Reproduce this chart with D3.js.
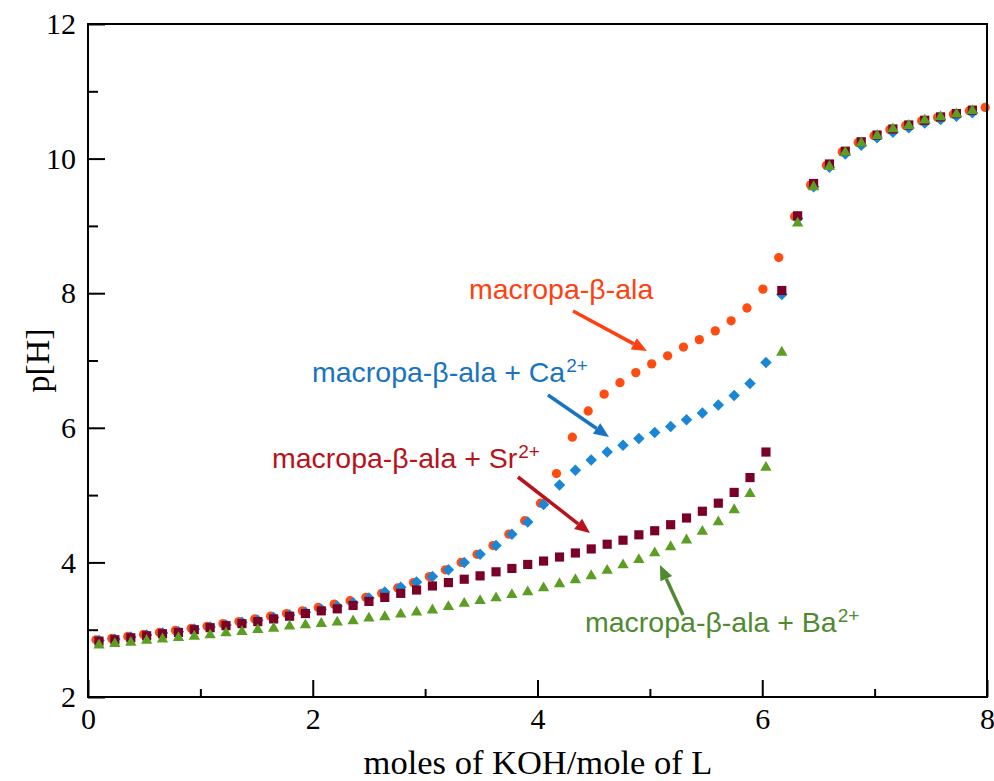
<!DOCTYPE html>
<html>
<head>
<meta charset="utf-8">
<script src="https://cdn.jsdelivr.net/npm/d3@7"></script>
<style>
  html, body { margin: 0; padding: 0; background: #fff; }
  svg { display: block; }
</style>
</head>
<body>
<svg id="chart" width="994" height="781"></svg>
<script>
// Titration curves: p[H] versus equivalents of KOH added per mole of ligand.

// Equivalents of base for the metal-containing titrations
const xMetal = [0.098, 0.239, 0.381, 0.522, 0.663, 0.805, 0.946, 1.087, 1.228, 1.370,
  1.511, 1.652, 1.794, 1.935, 2.076, 2.218, 2.359, 2.500, 2.641, 2.783,
  2.924, 3.065, 3.207, 3.348, 3.489, 3.631, 3.772, 3.913, 4.054, 4.196,
  4.337, 4.478, 4.620, 4.761, 4.902, 5.043, 5.185, 5.326, 5.467, 5.609,
  5.750, 5.891, 6.033, 6.174, 6.315, 6.457, 6.598, 6.739, 6.881, 7.022,
  7.163, 7.304, 7.446, 7.587, 7.728, 7.870];

// Equivalents of base for the free ligand titration
const xLigand = [0.071, 0.212, 0.354, 0.495, 0.636, 0.778, 0.919, 1.060, 1.201, 1.343,
  1.484, 1.625, 1.767, 1.908, 2.049, 2.191, 2.332, 2.473, 2.614, 2.756,
  2.897, 3.038, 3.180, 3.321, 3.462, 3.604, 3.745, 3.886, 4.027, 4.169,
  4.310, 4.451, 4.593, 4.734, 4.875, 5.016, 5.158, 5.299, 5.440, 5.582,
  5.723, 5.864, 6.006, 6.147, 6.288, 6.430, 6.571, 6.712, 6.854, 6.995,
  7.136, 7.277, 7.419, 7.560, 7.701, 7.843, 7.984];

// p[H] readings
const pHLigand = [2.85, 2.87, 2.90, 2.93, 2.96, 2.99, 3.02, 3.05, 3.09, 3.12,
  3.16, 3.20, 3.24, 3.28, 3.33, 3.38, 3.43, 3.48, 3.54, 3.62,
  3.70, 3.79, 3.89, 4.00, 4.12, 4.25, 4.42, 4.62, 4.88, 5.32,
  5.86, 6.25, 6.50, 6.67, 6.82, 6.95, 7.07, 7.20, 7.31, 7.44,
  7.59, 7.78, 8.06, 8.53, 9.14, 9.61, 9.90, 10.10, 10.24, 10.34,
  10.43, 10.49, 10.56, 10.61, 10.66, 10.71, 10.76];

const pHCa = [2.84, 2.86, 2.89, 2.92, 2.95, 2.97, 3.01, 3.04, 3.07, 3.11,
  3.14, 3.18, 3.22, 3.26, 3.30, 3.35, 3.40, 3.47, 3.56, 3.63,
  3.71, 3.79, 3.89, 4.00, 4.12, 4.25, 4.42, 4.60, 4.86, 5.15,
  5.37, 5.52, 5.64, 5.74, 5.84, 5.93, 6.02, 6.12, 6.22, 6.34,
  6.48, 6.66, 6.97, 7.98, 9.11, 9.58, 9.87, 10.07, 10.20, 10.31,
  10.39, 10.46, 10.53, 10.58, 10.63, 10.68];

const pHSr = [2.83, 2.85, 2.88, 2.91, 2.94, 2.96, 3.00, 3.03, 3.06, 3.09,
  3.12, 3.16, 3.20, 3.24, 3.28, 3.31, 3.36, 3.42, 3.48, 3.54,
  3.59, 3.65, 3.70, 3.75, 3.80, 3.86, 3.91, 3.97, 4.02, 4.08,
  4.14, 4.20, 4.27, 4.33, 4.41, 4.47, 4.56, 4.66, 4.76, 4.88,
  5.04, 5.26, 5.64, 8.04, 9.15, 9.63, 9.92, 10.11, 10.25, 10.35,
  10.44, 10.50, 10.57, 10.62, 10.67, 10.72];

const pHBa = [2.77, 2.79, 2.81, 2.84, 2.86, 2.88, 2.90, 2.92, 2.95, 2.97,
  3.00, 3.02, 3.05, 3.07, 3.09, 3.11, 3.13, 3.17, 3.19, 3.23,
  3.26, 3.29, 3.34, 3.39, 3.43, 3.47, 3.52, 3.56, 3.62, 3.68,
  3.74, 3.80, 3.88, 3.96, 4.04, 4.14, 4.23, 4.33, 4.46, 4.60,
  4.78, 5.02, 5.41, 7.12, 9.04, 9.58, 9.88, 10.09, 10.23, 10.34,
  10.44, 10.49, 10.57, 10.62, 10.66, 10.71];

// Axis ticks
const xMajorTicks = [0, 2, 4, 6, 8];
const xMinorTicks = [1, 3, 5, 7];
const yMajorTicks = [2, 4, 6, 8, 10, 12];
const yMinorTicks = [3, 5, 7, 9, 11];

// Series styling
const series = [
  { name: "L",  x: xLigand, y: pHLigand, symbol: "circle",   color: "#ff4d12" },
  { name: "Ca", x: xMetal,  y: pHCa,     symbol: "diamond",  color: "#1a86d6" },
  { name: "Sr", x: xMetal,  y: pHSr,     symbol: "square",   color: "#7b0028" },
  { name: "Ba", x: xMetal,  y: pHBa,     symbol: "triangle", color: "#5c9e22" }
];

// Callout labels with arrows (positions in data units)
const callouts = [
  { text: "macropa-β-ala", sup: "", color: "#ff4010", at: [3.39, 7.914],
    tail: [4.316, 7.735], head: [4.974, 7.141] },
  { text: "macropa-β-ala + Ca", sup: "2+", color: "#1874c0", at: [1.993, 6.681],
    tail: [4.093, 6.487], head: [4.636, 5.863] },
  { text: "macropa-β-ala + Sr", sup: "2+", color: "#b8121b", at: [1.637, 5.403],
    tail: [3.826, 5.269], head: [4.467, 4.437] },
  { text: "macropa-β-ala + Ba", sup: "2+", color: "#4f8a30", at: [4.423, 2.966],
    tail: [5.295, 3.218], head: [5.09, 3.961] }
];

const svg = d3.select("#chart");
const plotLeft = 88, plotRight = 987, plotTop = 24, plotBottom = 697;

const x = d3.scaleLinear().domain([0, 8]).range([plotLeft, plotRight]);
const y = d3.scaleLinear().domain([2, 12]).range([plotBottom, plotTop]);

const serif = "'Liberation Serif', 'Times New Roman', serif";
const sans = "'Liberation Sans', Arial, sans-serif";

// Markers
const symbolGen = {
  circle: d3.symbol().type(d3.symbolCircle).size(68),
  square: d3.symbol().type(d3.symbolSquare).size(84),
  diamond: d3.symbol().type(d3.symbolSquare).size(66),
  triangle: d3.symbol().type(d3.symbolTriangle).size(56)
};

const plot = svg.append("g");
series.forEach(s => {
  const pts = s.y.map((v, i) => [s.x[i], v]);
  plot.append("g")
    .selectAll("path")
    .data(pts)
    .join("path")
    .attr("d", symbolGen[s.symbol]())
    .attr("fill", s.color)
    .attr("transform", d => `translate(${x(d[0])},${y(d[1])})` + (s.symbol === "diamond" ? " rotate(45)" : ""));
});

// Frame
svg.append("rect")
  .attr("x", plotLeft).attr("y", plotTop)
  .attr("width", plotRight - plotLeft).attr("height", plotBottom - plotTop)
  .attr("fill", "none").attr("stroke", "#000").attr("stroke-width", 2);

// Inward ticks: bottom axis
const xAxisMajor = d3.axisBottom(x).tickValues(xMajorTicks).tickSize(-17).tickPadding(28).tickFormat(d3.format("d"));
const xAxisMinor = d3.axisBottom(x).tickValues(xMinorTicks).tickSize(-8).tickFormat("");
const gx = svg.append("g").attr("transform", `translate(0,${plotBottom})`);
gx.call(xAxisMajor);
const gx2 = svg.append("g").attr("transform", `translate(0,${plotBottom})`);
gx2.call(xAxisMinor);

// Inward ticks: left axis
const yAxisMajor = d3.axisLeft(y).tickValues(yMajorTicks).tickSize(-17).tickPadding(28).tickFormat(d3.format("d"));
const yAxisMinor = d3.axisLeft(y).tickValues(yMinorTicks).tickSize(-10).tickFormat("");
const gy = svg.append("g").attr("transform", `translate(${plotLeft},0)`);
gy.call(yAxisMajor);
const gy2 = svg.append("g").attr("transform", `translate(${plotLeft},0)`);
gy2.call(yAxisMinor);

[gx, gx2, gy, gy2].forEach(g => {
  g.select(".domain").remove();
  g.selectAll(".tick line").attr("stroke", "#000").attr("stroke-width", 2);
  g.selectAll(".tick text").attr("fill", "#000").style("font-family", serif).style("font-size", "30px");
});
gx.selectAll(".tick text").attr("y", 11);
gy.selectAll(".tick text").attr("x", -12);

// Axis titles
svg.append("text")
  .attr("x", 538).attr("y", 774)
  .attr("text-anchor", "middle")
  .style("font-family", serif).style("font-size", "34.5px")
  .text("moles of KOH/mole of L");

svg.append("text")
  .attr("transform", `translate(49,${(plotTop + plotBottom) / 2}) rotate(-90)`)
  .attr("text-anchor", "middle")
  .style("font-family", serif).style("font-size", "34px")
  .text("p[H]");

// Callouts
const ann = svg.append("g");
callouts.forEach(c => {
  const t = ann.append("text")
    .attr("x", x(c.at[0])).attr("y", y(c.at[1]))
    .attr("fill", c.color)
    .style("font-family", sans).style("font-size", "28.5px")
    .text(c.text);
  if (c.sup) {
    t.append("tspan").attr("dx", 1).attr("dy", -10).style("font-size", "19px").text(c.sup);
  }
  const x1 = x(c.tail[0]), y1 = y(c.tail[1]);
  const x2 = x(c.head[0]), y2 = y(c.head[1]);
  const ang = Math.atan2(y2 - y1, x2 - x1);
  const headLen = 15, headHalf = 6.5;
  const bx = x2 - headLen * Math.cos(ang), by = y2 - headLen * Math.sin(ang);
  ann.append("line")
    .attr("x1", x1).attr("y1", y1).attr("x2", bx).attr("y2", by)
    .attr("stroke", c.color).attr("stroke-width", 3.5);
  ann.append("path")
    .attr("d", d3.line()([
      [x2, y2],
      [bx + headHalf * Math.sin(ang), by - headHalf * Math.cos(ang)],
      [bx - headHalf * Math.sin(ang), by + headHalf * Math.cos(ang)]
    ]) + "Z")
    .attr("fill", c.color);
});
</script>
</body>
</html>
